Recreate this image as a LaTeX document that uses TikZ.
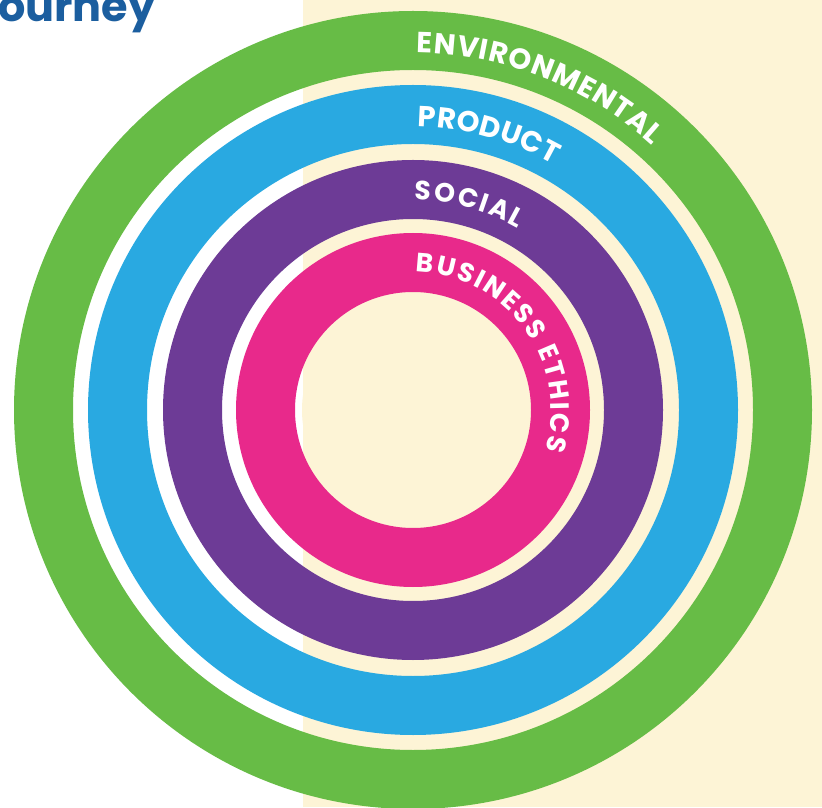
\documentclass[tikz,border=0pt]{standalone}
\usepackage{fontspec}
\usetikzlibrary{decorations.text}
\newfontfamily\popfont{Poppins}
\definecolor{ringgreen}{HTML}{67BC46}
\definecolor{ringblue}{HTML}{29A9E1}
\definecolor{ringpurple}{HTML}{6D3B96}
\definecolor{ringpink}{HTML}{E8298B}
\definecolor{creambg}{HTML}{FDF4D6}
\definecolor{titleblue}{HTML}{1B5E9F}
\newcommand\ringfontA{\popfont\bfseries\fontsize{29}{29}\selectfont}
\newcommand\ringfontB{\popfont\bfseries\fontsize{26.5}{26.5}\selectfont}
\tikzset{
  ring/.style={even odd rule},
  ringlabel/.style={decorate, decoration={text along path, text align=fit to path, text color=white, text={#1}}}
}
\begin{document}
\begin{tikzpicture}[x=1pt,y=1pt]
\useasboundingbox (0,0) rectangle (822,807);
\begin{scope}
\clip (0,0) rectangle (822,807);
\fill[white] (0,0) rectangle (303,807);
\fill[creambg] (303,0) rectangle (822,807);
\coordinate (C) at (413,397);
\fill[ringgreen, ring] (C) circle[radius=399pt] (C) circle[radius=340pt];
\fill[ringblue, ring] (C) circle[radius=325pt] (C) circle[radius=266pt];
\fill[ringpurple, ring] (C) circle[radius=250pt] (C) circle[radius=191pt];
\fill[ringpink, ring] (C) circle[radius=177pt] (C) circle[radius=118pt];
\fill[creambg] (C) circle[radius=111pt];
\node[anchor=base west, inner sep=0pt, text=titleblue, font=\popfont\bfseries\fontsize{43}{43}\selectfont] (title) at (-2,785) {ourney};
\end{scope}
\path[shift={(C)}, ringlabel={|\ringfontA|ENVIRONMENTAL}] (89.4:357pt) arc[start angle=89.4, end angle=47.9, radius=357pt];
\path[shift={(C)}, ringlabel={|\ringfontA|PRODUCT}] (89.0:283pt) arc[start angle=89.0, end angle=60.3, radius=283pt];
\path[shift={(C)}, ringlabel={|\ringfontB|SOCIAL}] (89.5:210pt) arc[start angle=89.5, end angle=60.0, radius=210pt];
\path[shift={(C)}, ringlabel={|\ringfontB|BUSINESS ETHICS}] (88.8:138pt) arc[start angle=88.8, end angle=-17.0, radius=138pt];
\end{tikzpicture}
\end{document}
